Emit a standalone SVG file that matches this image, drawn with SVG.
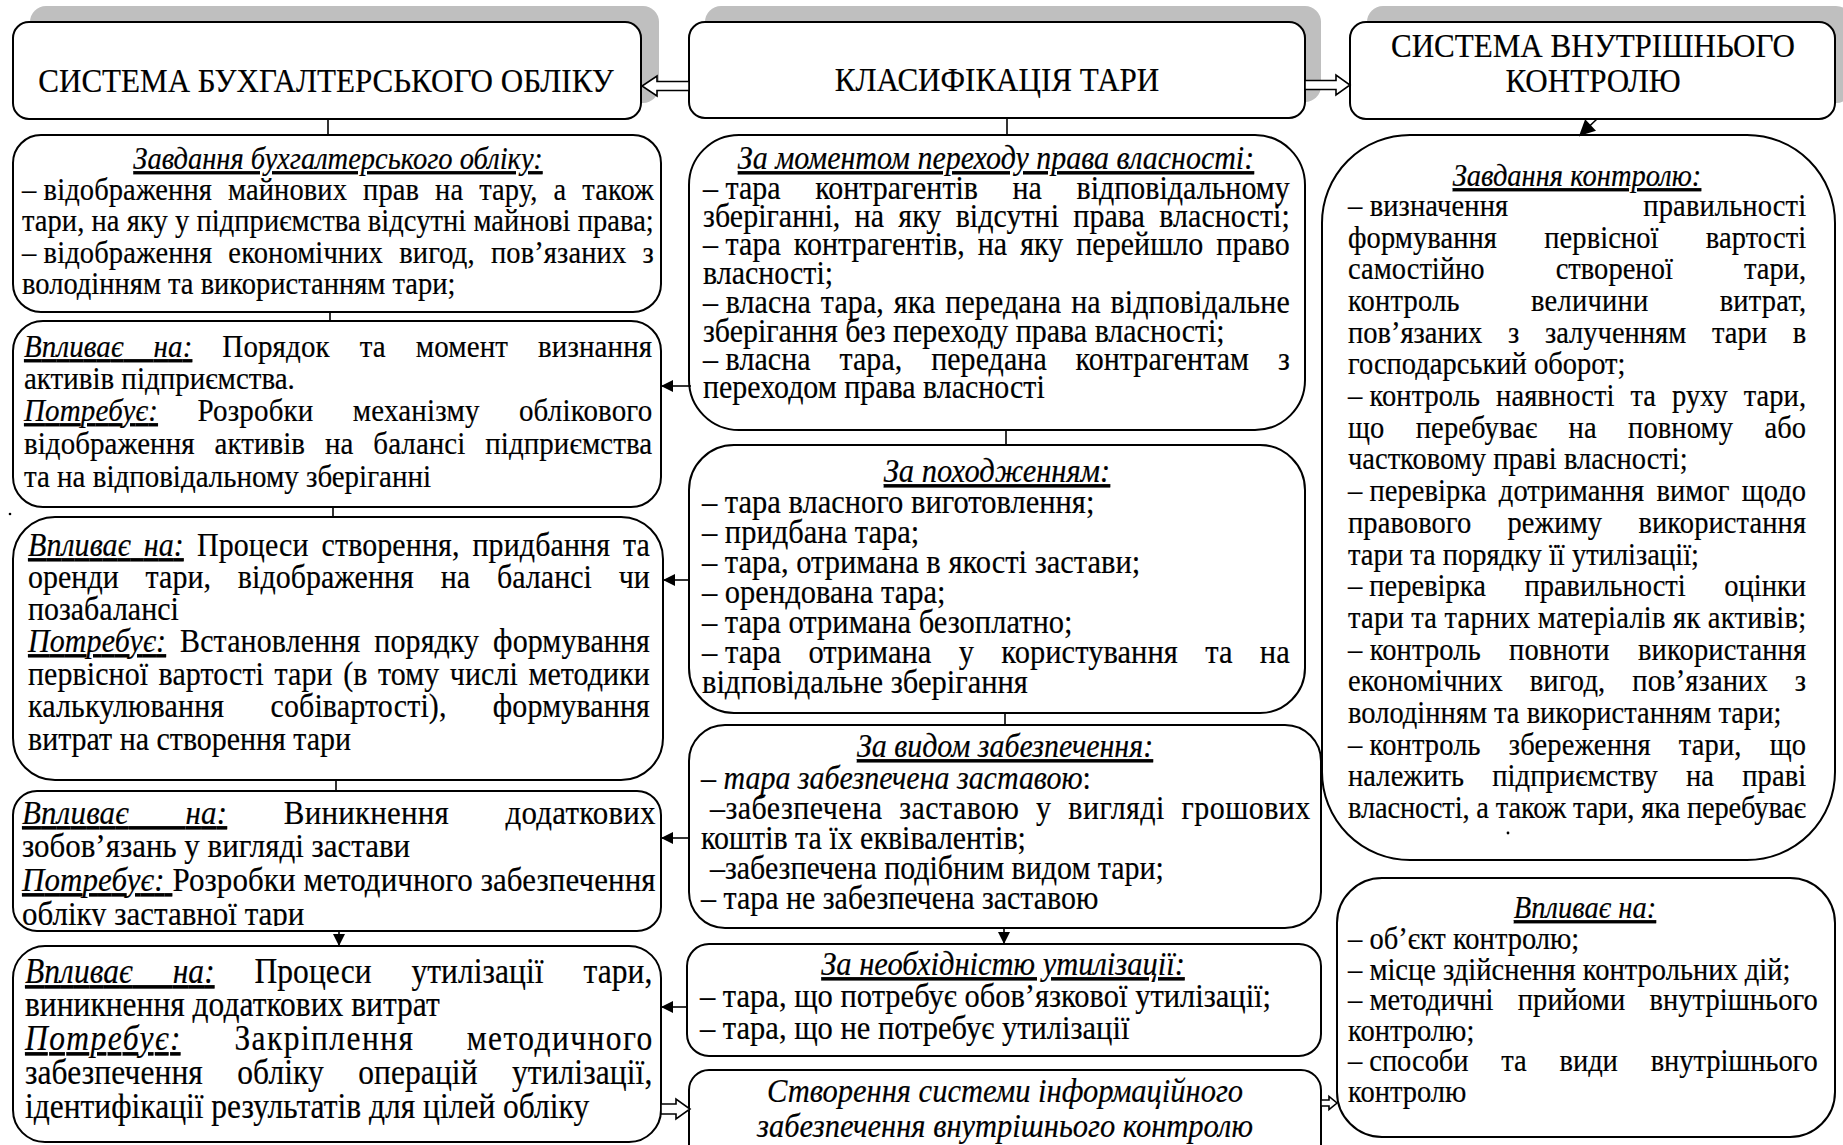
<svg xmlns="http://www.w3.org/2000/svg" width="1843" height="1145" viewBox="0 0 1843 1145">
<defs>
<style>
text{font-family:"Liberation Serif","Times New Roman",serif;fill:#000;stroke:#000;stroke-width:.2px}
.h{font-size:34.5px}
.l1{font-size:31.7px}
.l2{font-size:32.2px}
.l3{font-size:33.3px}
.l4{font-size:34.4px}
.l5{font-size:35px}
.m{font-size:33.9px}
.m1{font-size:33.3px}
.r{font-size:31.7px}
.c{text-anchor:middle}
.i{font-style:italic}
.u{text-decoration:underline}
.box{fill:#fff;stroke:#000;stroke-width:2}
.sh{fill:#bfbfbf}
.cn{stroke:#000;stroke-width:1.6;fill:none}
.ba{fill:#fff;stroke:#000;stroke-width:1.6}
</style>
<marker id="ah" viewBox="0 0 10 10" refX="10" refY="5" markerWidth="14" markerHeight="12" markerUnits="userSpaceOnUse" orient="auto"><path d="M0,0L10,5L0,10z"/></marker>
<marker id="ah2" viewBox="0 0 10 10" refX="10" refY="5" markerWidth="18" markerHeight="16" markerUnits="userSpaceOnUse" orient="auto"><path d="M0,0L10,5L0,10z"/></marker>
<clipPath id="c4"><rect x="12" y="791" width="649" height="135"/></clipPath>
</defs>
<rect x="0" y="0" width="1843" height="1145" fill="#fff"/>

<!-- LEFT COLUMN -->
<g id="n-l0">
<rect class="sh" x="30" y="6" width="629" height="97" rx="16"/>
<rect class="box" x="13" y="22" width="628" height="97" rx="16"/>
<text class="h c" transform="matrix(.9 0 0 1 326 92)">СИСТЕМА БУХГАЛТЕРСЬКОГО ОБЛІКУ</text>
</g>
<g id="n-l1">
<rect class="box" x="13" y="135" width="648" height="177" rx="28"/>
<text class="l1 c i u" transform="matrix(.9 0 0 1 338 169)">Завдання бухгалтерського обліку:</text>
<text class="l1" transform="matrix(.9 0 0 1 22 200)" textLength="702" lengthAdjust="spacing" style="word-spacing:9.7px">–&#8197;відображення майнових прав на тару, а також</text>
<text class="l1" transform="matrix(.9 0 0 1 22 231)" textLength="702" lengthAdjust="spacing">тари, на яку у підприємства відсутні майнові права;</text>
<text class="l1" transform="matrix(.9 0 0 1 22 263)" textLength="702" lengthAdjust="spacing" style="word-spacing:10px">–&#8197;відображення економічних вигод, пов’язаних з</text>
<text class="l1" transform="matrix(.9 0 0 1 22 294)">володінням та використанням тари;</text>
</g>
<g id="n-l2">
<rect class="box" x="13" y="321" width="648" height="186" rx="30"/>
<text class="l2" transform="matrix(.9 0 0 1 24 357)" textLength="698" lengthAdjust="spacing" style="word-spacing:25px"><tspan class="i u">Впливає на:</tspan> Порядок та момент визнання</text>
<text class="l2" transform="matrix(.9 0 0 1 24 389)">активів підприємства.</text>
<text class="l2" transform="matrix(.9 0 0 1 24 421)" textLength="698" lengthAdjust="spacing" style="word-spacing:35.5px"><tspan class="i u">Потребує:</tspan> Розробки механізму облікового</text>
<text class="l2" transform="matrix(.9 0 0 1 24 454)" textLength="698" lengthAdjust="spacing" style="word-spacing:14px">відображення активів на балансі підприємства</text>
<text class="l2" transform="matrix(.9 0 0 1 24 487)">та на відповідальному зберіганні</text>
</g>
<circle cx="10" cy="514" r="1.3" fill="#000"/>
<g id="n-l3">
<rect class="box" x="13" y="517" width="650" height="263" rx="42"/>
<text class="l3" transform="matrix(.9 0 0 1 28 556)" textLength="691" lengthAdjust="spacing" style="word-spacing:6px"><tspan class="i u">Впливає на:</tspan> Процеси створення, придбання та</text>
<text class="l3" transform="matrix(.9 0 0 1 28 588)" textLength="691" lengthAdjust="spacing" style="word-spacing:21.5px">оренди тари, відображення на балансі чи</text>
<text class="l3" transform="matrix(.9 0 0 1 28 620)">позабалансі</text>
<text class="l3" transform="matrix(.9 0 0 1 28 652)" textLength="691" lengthAdjust="spacing" style="word-spacing:7px"><tspan class="i u">Потребує:</tspan> Встановлення порядку формування</text>
<text class="l3" transform="matrix(.9 0 0 1 28 685)" textLength="691" lengthAdjust="spacing" style="word-spacing:3.3px">первісної вартості тари (в тому числі методики</text>
<text class="l3" transform="matrix(.9 0 0 1 28 717)" textLength="691" lengthAdjust="spacing" style="word-spacing:42.8px">калькулювання собівартості), формування</text>
<text class="l3" transform="matrix(.9 0 0 1 28 750)">витрат на створення тари</text>
</g>
<g id="n-l4">
<rect class="box" x="13" y="791" width="648" height="140" rx="24"/>
<g clip-path="url(#c4)">
<text class="l4" transform="matrix(.9 0 0 1 22 824)" textLength="704" lengthAdjust="spacing" style="word-spacing:54px"><tspan class="i u">Впливає на:</tspan> Виникнення додаткових</text>
<text class="l4" transform="matrix(.9 0 0 1 22 857)">зобов’язань у вигляді застави</text>
<text class="l4" transform="matrix(.9 0 0 1 22 891)" textLength="704" lengthAdjust="spacing"><tspan class="i u">Потребує: </tspan>Розробки методичного забезпечення</text>
<text class="l4" transform="matrix(.9 0 0 1 22 925)">обліку заставної тари</text>
</g>
</g>
<g id="n-l5">
<rect class="box" x="13" y="946" width="648" height="196" rx="32"/>
<text class="l5" transform="matrix(.9 0 0 1 25 983)" textLength="697" lengthAdjust="spacing" style="word-spacing:35.4px"><tspan class="i u">Впливає на:</tspan> Процеси утилізації тари,</text>
<text class="l5" transform="matrix(.9 0 0 1 25 1016)">виникнення додаткових витрат</text>
<text class="l5" transform="matrix(.9 0 0 1 25 1050)" textLength="697" lengthAdjust="spacing" style="word-spacing:47.9px"><tspan class="i u">Потребує:</tspan> Закріплення методичного</text>
<text class="l5" transform="matrix(.9 0 0 1 25 1084)" textLength="697" lengthAdjust="spacing" style="word-spacing:29.3px">забезпечення обліку операцій утилізації,</text>
<text class="l5" transform="matrix(.9 0 0 1 25 1118)">ідентифікації результатів для цілей обліку</text>
</g>

<!-- MIDDLE COLUMN -->
<g id="n-m0">
<rect class="sh" x="705" y="6" width="616" height="96" rx="16"/>
<rect class="box" x="689" y="22" width="616" height="96" rx="16"/>
<text class="h c" transform="matrix(.9 0 0 1 997 91)">КЛАСИФІКАЦІЯ ТАРИ</text>
</g>
<g id="n-m1">
<rect class="box" x="689" y="135" width="616" height="295" rx="50"/>
<text class="m1 c i u" transform="matrix(.9 0 0 1 996 169)">За моментом переходу права власності:</text>
<text class="m1" transform="matrix(.9 0 0 1 703 199)" textLength="652" lengthAdjust="spacing" style="word-spacing:30px">–&#8197;тара контрагентів на відповідальному</text>
<text class="m1" transform="matrix(.9 0 0 1 703 227)" textLength="652" lengthAdjust="spacing" style="word-spacing:7.5px">зберіганні, на яку відсутні права власності;</text>
<text class="m1" transform="matrix(.9 0 0 1 703 255)" textLength="652" lengthAdjust="spacing" style="word-spacing:6px">–&#8197;тара контрагентів, на яку перейшло право</text>
<text class="m1" transform="matrix(.9 0 0 1 703 284)">власності;</text>
<text class="m1" transform="matrix(.9 0 0 1 703 313)" textLength="652" lengthAdjust="spacing" style="word-spacing:2.6px">–&#8197;власна тара, яка передана на відповідальне</text>
<text class="m1" transform="matrix(.9 0 0 1 703 342)">зберігання без переходу права власності;</text>
<text class="m1" transform="matrix(.9 0 0 1 703 370)" textLength="652" lengthAdjust="spacing" style="word-spacing:23.6px">–&#8197;власна тара, передана контрагентам з</text>
<text class="m1" transform="matrix(.9 0 0 1 703 398)">переходом права власності</text>
</g>
<g id="n-m2">
<rect class="box" x="689" y="445" width="616" height="268" rx="45"/>
<text class="m c i u" transform="matrix(.9 0 0 1 997 482)">За походженням:</text>
<text class="m" transform="matrix(.9 0 0 1 702 513)">– тара власного виготовлення;</text>
<text class="m" transform="matrix(.9 0 0 1 702 543)">– придбана тара;</text>
<text class="m" transform="matrix(.9 0 0 1 702 573)">– тара, отримана в якості застави;</text>
<text class="m" transform="matrix(.9 0 0 1 702 603)">– орендована тара;</text>
<text class="m" transform="matrix(.9 0 0 1 702 633)">– тара отримана безоплатно;</text>
<text class="m" transform="matrix(.9 0 0 1 702 663)" textLength="653" lengthAdjust="spacing" style="word-spacing:21.8px">–&#8197;тара отримана у користування та на</text>
<text class="m" transform="matrix(.9 0 0 1 702 693)">відповідальне зберігання</text>
</g>
<g id="n-m3">
<rect class="box" x="689" y="725" width="632" height="203" rx="36"/>
<text class="m1 c i u" transform="matrix(.9 0 0 1 1005 757)">За видом забезпечення:</text>
<text class="m1" transform="matrix(.9 0 0 1 701 789)">– <tspan class="i">тара забезпечена заставою</tspan>:</text>
<text class="m1" transform="matrix(.9 0 0 1 710 819)" textLength="667" lengthAdjust="spacing" style="word-spacing:9.7px">–забезпечена заставою у вигляді грошових</text>
<text class="m1" transform="matrix(.9 0 0 1 701 849)">коштів та їх еквівалентів;</text>
<text class="m1" transform="matrix(.9 0 0 1 710 879)">–забезпечена подібним видом тари;</text>
<text class="m1" transform="matrix(.9 0 0 1 701 909)">– тара не забезпечена заставою</text>
</g>
<g id="n-m4">
<rect class="box" x="687" y="944" width="634" height="112" rx="22"/>
<text class="m c i u" transform="matrix(.9 0 0 1 1003 975)">За необхідністю утилізації:</text>
<text class="m" transform="matrix(.9 0 0 1 700 1007)">– тара, що потребує обов’язкової утилізації;</text>
<text class="m" transform="matrix(.9 0 0 1 700 1039)">– тара, що не потребує утилізації</text>
</g>
<g id="n-m5">
<rect class="box" x="689" y="1070" width="632" height="110" rx="20"/>
<text class="m c i" transform="matrix(.9 0 0 1 1005 1102)">Створення системи інформаційного</text>
<text class="m c i" transform="matrix(.9 0 0 1 1005 1137)">забезпечення внутрішнього контролю</text>
</g>

<!-- RIGHT COLUMN -->
<g id="n-r0">
<rect class="sh" x="1367" y="6" width="485" height="97" rx="16"/>
<rect class="box" x="1350" y="22" width="485" height="97" rx="16"/>
<text class="h c" transform="matrix(.9 0 0 1 1593 57)">СИСТЕМА ВНУТРІШНЬОГО</text>
<text class="h c" transform="matrix(.9 0 0 1 1593 92)">КОНТРОЛЮ</text>
</g>
<g id="n-r1">
<rect class="box" x="1322" y="135" width="513" height="725" rx="88"/>
<text class="r c i u" transform="matrix(.9 0 0 1 1577 186)">Завдання контролю:</text>
<text class="r" transform="matrix(.9 0 0 1 1348 216)" textLength="509" lengthAdjust="spacing" style="word-spacing:142px">–&#8197;визначення правильності</text>
<text class="r" transform="matrix(.9 0 0 1 1348 248)" textLength="509" lengthAdjust="spacing" style="word-spacing:44.4px">формування первісної вартості</text>
<text class="r" transform="matrix(.9 0 0 1 1348 279)" textLength="509" lengthAdjust="spacing" style="word-spacing:71px">самостійно створеної тари,</text>
<text class="r" transform="matrix(.9 0 0 1 1348 311)" textLength="509" lengthAdjust="spacing" style="word-spacing:71px">контроль величини витрат,</text>
<text class="r" transform="matrix(.9 0 0 1 1348 343)" textLength="509" lengthAdjust="spacing" style="word-spacing:20.6px">пов’язаних з залученням тари в</text>
<text class="r" transform="matrix(.9 0 0 1 1348 374)">господарський оборот;</text>
<text class="r" transform="matrix(.9 0 0 1 1348 406)" textLength="509" lengthAdjust="spacing" style="word-spacing:9.7px">–&#8197;контроль наявності та руху тари,</text>
<text class="r" transform="matrix(.9 0 0 1 1348 438)" textLength="509" lengthAdjust="spacing" style="word-spacing:26.7px">що перебуває на повному або</text>
<text class="r" transform="matrix(.9 0 0 1 1348 469)">частковому праві власності;</text>
<text class="r" transform="matrix(.9 0 0 1 1348 501)" textLength="509" lengthAdjust="spacing" style="word-spacing:5.6px">–&#8197;перевірка дотримання вимог щодо</text>
<text class="r" transform="matrix(.9 0 0 1 1348 533)" textLength="509" lengthAdjust="spacing" style="word-spacing:32.2px">правового режиму використання</text>
<text class="r" transform="matrix(.9 0 0 1 1348 565)">тари та порядку її утилізації;</text>
<text class="r" transform="matrix(.9 0 0 1 1348 596)" textLength="509" lengthAdjust="spacing" style="word-spacing:35px">–&#8197;перевірка правильності оцінки</text>
<text class="r" transform="matrix(.9 0 0 1 1348 628)" textLength="509" lengthAdjust="spacing">тари та тарних матеріалів як активів;</text>
<text class="r" transform="matrix(.9 0 0 1 1348 660)" textLength="509" lengthAdjust="spacing" style="word-spacing:23.3px">–&#8197;контроль повноти використання</text>
<text class="r" transform="matrix(.9 0 0 1 1348 691)" textLength="509" lengthAdjust="spacing" style="word-spacing:21.9px">економічних вигод, пов’язаних з</text>
<text class="r" transform="matrix(.9 0 0 1 1348 723)">володінням та використанням тари;</text>
<text class="r" transform="matrix(.9 0 0 1 1348 755)" textLength="509" lengthAdjust="spacing" style="word-spacing:23.3px">–&#8197;контроль збереження тари, що</text>
<text class="r" transform="matrix(.9 0 0 1 1348 786)" textLength="509" lengthAdjust="spacing" style="word-spacing:23.3px">належить підприємству на праві</text>
<text class="r" transform="matrix(.9 0 0 1 1348 818)" textLength="509" lengthAdjust="spacing">власності, а також тари, яка перебуває</text>
<circle cx="1508" cy="833" r="1.4" fill="#000"/>
</g>
<g id="n-r2">
<rect class="box" x="1337" y="878" width="498" height="259" rx="45"/>
<text class="r c i u" transform="matrix(.9 0 0 1 1585 918)">Впливає на:</text>
<text class="r" transform="matrix(.9 0 0 1 1348 949)">– об’єкт контролю;</text>
<text class="r" transform="matrix(.9 0 0 1 1348 980)">– місце здійснення контрольних дій;</text>
<text class="r" transform="matrix(.9 0 0 1 1348 1010)" textLength="522" lengthAdjust="spacing" style="word-spacing:18.9px">–&#8197;методичні прийоми внутрішнього</text>
<text class="r" transform="matrix(.9 0 0 1 1348 1041)">контролю;</text>
<text class="r" transform="matrix(.9 0 0 1 1348 1071)" textLength="522" lengthAdjust="spacing" style="word-spacing:28.6px">–&#8197;способи та види внутрішнього</text>
<text class="r" transform="matrix(.9 0 0 1 1348 1102)">контролю</text>
</g>

<!-- CONNECTORS -->
<g id="connectors">
<line class="cn" x1="328" y1="119" x2="328" y2="135"/>
<line class="cn" x1="330" y1="312" x2="330" y2="321"/>
<line class="cn" x1="333" y1="507" x2="333" y2="517"/>
<line class="cn" x1="336" y1="780" x2="336" y2="791"/>
<line class="cn" x1="339" y1="931" x2="339" y2="946" marker-end="url(#ah)"/>
<line class="cn" x1="1007" y1="118" x2="1007" y2="135"/>
<line class="cn" x1="1006" y1="430" x2="1006" y2="445"/>
<line class="cn" x1="1005" y1="713" x2="1005" y2="725"/>
<line class="cn" x1="1004" y1="928" x2="1004" y2="944" marker-end="url(#ah)"/>
<line class="cn" x1="691" y1="386" x2="661" y2="386" marker-end="url(#ah)"/>
<line class="cn" x1="690" y1="580" x2="663" y2="580" marker-end="url(#ah)"/>
<line class="cn" x1="690" y1="838" x2="661" y2="838" marker-end="url(#ah)"/>
<line class="cn" x1="688" y1="1007" x2="661" y2="1007" marker-end="url(#ah)"/>
<line class="cn" x1="1597" y1="119" x2="1579" y2="136" marker-end="url(#ah2)"/>
<polygon class="ba" points="689,81.5 657,81.5 657,76 642,86 657,96 657,90.5 689,90.5"/>
<polygon class="ba" points="1305,80.5 1336,80.5 1336,75 1350,85 1336,95 1336,89.5 1305,89.5"/>
<polygon class="ba" points="661,1104 676,1104 676,1099 690,1109 676,1119 676,1114 661,1114"/>
<polygon class="ba" points="1321,1100 1329,1100 1329,1096.5 1337,1103 1329,1109.5 1329,1106 1321,1106"/>
</g>
</svg>
